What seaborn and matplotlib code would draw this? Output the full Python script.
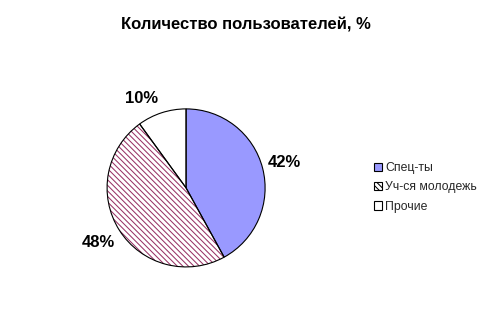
import matplotlib
matplotlib.use("Agg")
import matplotlib.pyplot as plt
import seaborn as sns
from matplotlib.patches import Patch

categories = ["Спец-ты", "Уч-ся молодежь", "Прочие"]
values = [42, 48, 10]
labels = ["42%", "48%", "10%"]

sns.set_theme(style="white")
plt.rcParams['font.family'] = ['Liberation Sans', 'DejaVu Sans']
plt.rcParams['hatch.linewidth'] = 0.75

fig = plt.figure(figsize=(4.91, 3.32), dpi=100)
fig.patch.set_facecolor("white")
ax = fig.add_axes([0.218, 0.196, 0.322, 0.476])

fills = ["#9999FF", "white", "white"]
hatches = [None, "\\" * 6, None]

wedges, _ = ax.pie(values, startangle=90, counterclock=False, colors=fills,
                   wedgeprops=dict(linewidth=0, edgecolor="#993366"))
for w, h in zip(wedges, hatches):
    if h:
        w.set_hatch(h)
        w.set_edgecolor("#993366")
        w.set_linewidth(0)

wedges2, texts = ax.pie(values, startangle=90, counterclock=False, labels=labels,
                        labeldistance=1.28,
                        wedgeprops=dict(linewidth=0.8, edgecolor="black", fill=False),
                        textprops=dict(fontsize=12, fontweight="bold", color="black"))
for t in texts:
    t.set_ha("center")
    t.set_va("center")
x48, y48 = texts[1].get_position()
texts[1].set_position((x48 - 0.03, y48))
x10, y10 = texts[2].get_position()
texts[2].set_position((x10 - 0.17, y10 - 0.08))
ax.set_xlim(-1.0, 1.0)
ax.set_ylim(-1.0, 1.0)
ax.set_aspect("equal")
ax.set_axis_off()

fig.text(0.5, 0.925, "Количество пользователей, %", ha="center", va="center",
         fontsize=12, fontweight="bold", color="black")

handles = [Patch(facecolor="#9999FF", edgecolor="black", linewidth=0.8),
           Patch(facecolor="white", edgecolor="black", linewidth=0.8, hatch="\\" * 6),
           Patch(facecolor="white", edgecolor="black", linewidth=0.8)]
leg = fig.legend(handles, categories, loc="upper left", bbox_to_anchor=(0.749, 0.53),
                 frameon=False, fontsize=8.8, handlelength=0.65, handleheight=0.65,
                 handletextpad=0.3, labelspacing=0.6, borderpad=0)

fig.savefig("out.png", dpi=100, facecolor="white")
